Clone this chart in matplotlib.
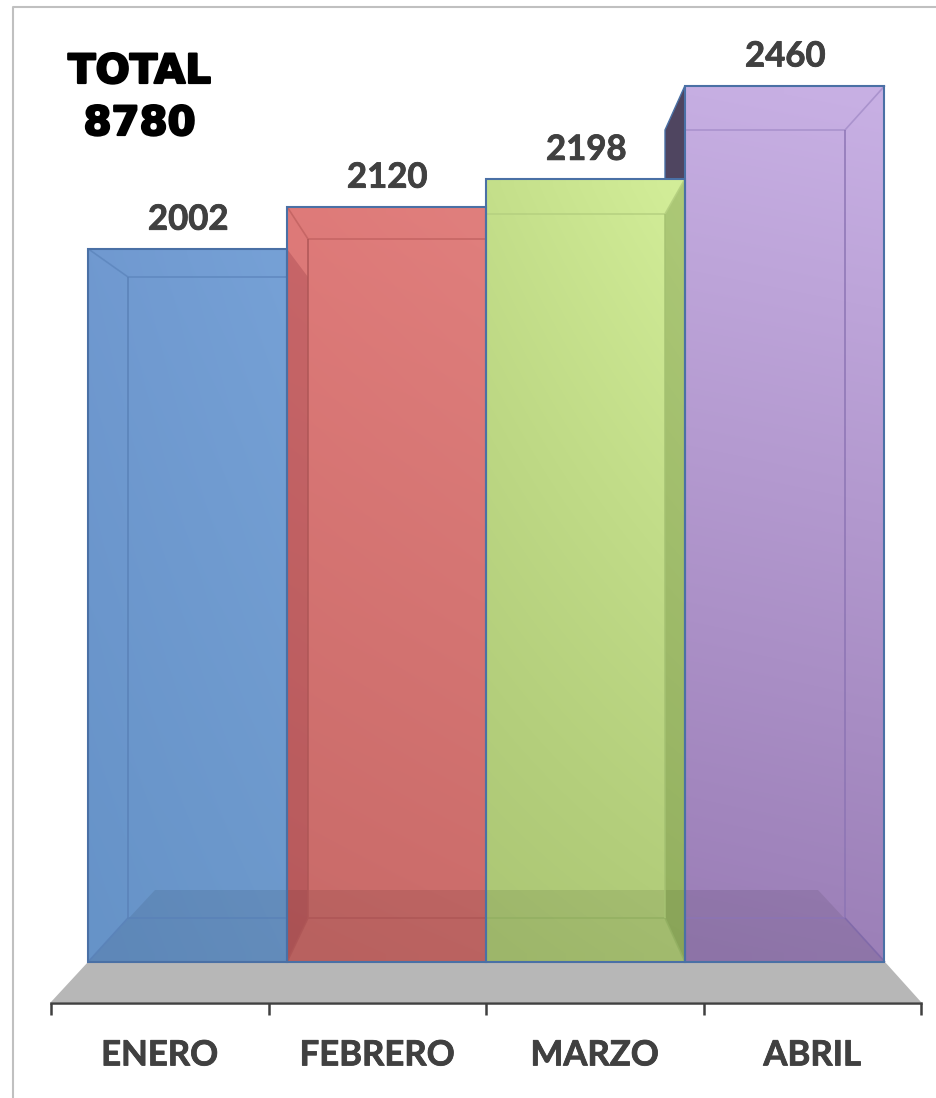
import numpy as np
import matplotlib
matplotlib.use("Agg")
import matplotlib.pyplot as plt
from matplotlib.patches import Polygon, Rectangle
from matplotlib.colors import to_rgb
import matplotlib.patheffects as pe

months = ["ENERO", "FEBRERO", "MARZO", "ABRIL"]
values = [2002, 2120, 2198, 2460]
total = 8780

# corner colours: top-left, top-right, bottom-left, bottom-right
bar_corners = [
    ["#7099d0", "#76a1d6", "#6693c8", "#6c98cb"],
    ["#de7a79", "#e07f7d", "#c86a68", "#cb6c6a"],
    ["#c4df8a", "#d3ee99", "#abc674", "#b0cb78"],
    ["#c6aee2", "#c8b0e4", "#9a7db6", "#9c80b8"],
]
edge = "#4a70a5"
text_col = "#404040"

W, H = 936, 1098
PX_X, PX_Y = 199.0, 0.3563   # pixels per bar step, pixels per unit value
X0, Y0 = 187.5, 962.0        # pixel of bar 0 centre, pixel of the zero line

fig = plt.figure(figsize=(W / 100, H / 100), dpi=100, facecolor="white")
ax = fig.add_axes([0, 0, 1, 1])
xlim = (-X0 / PX_X, (W - X0) / PX_X)
ylim = ((Y0 - H) / PX_Y, Y0 / PX_Y)
ax.patch.set_alpha(0)

def dx(px):
    return (px - X0) / PX_X
def dy(py):
    return (Y0 - py) / PX_Y
def P(pts):
    return [(dx(a), dy(b)) for a, b in pts]

def poly(pts, **kw):
    kw.setdefault("linewidth", 0)
    p = Polygon(P(pts), closed=True, **kw)
    ax.add_patch(p)
    return p

def line(pts, color, lw=1.2, alpha=1.0, z=6):
    xy = np.array(P(pts))
    ax.plot(xy[:, 0], xy[:, 1], color=color, lw=lw, alpha=alpha, zorder=z, solid_capstyle="butt")

def face(corners, n=48):
    tl, tr, bl, br = [np.array(to_rgb(c)) for c in corners]
    u = np.linspace(0, 1, n)[None, :, None]
    v = np.linspace(0, 1, n)[:, None, None]
    return (1 - v) * ((1 - u) * tl + u * tr) + v * ((1 - u) * bl + u * br)

# outer picture frame
line([(13, 1098), (13, 7), (936, 7)], "#c0c0c0", lw=1.5, z=0)

# grey platform
poly([(88, 962), (885, 962), (921, 1002), (51, 1002)], facecolor="#b7b7b7", zorder=1)

# back-left dark slab of the last bar
back_top = [277, 239, 214, 130]
top_px = [Y0 - v * PX_Y for v in values]
poly([(665, back_top[3]), (685, top_px[3]), (685, top_px[2]), (665, top_px[2])],
     facecolor="#4f4560", edgecolor=edge, linewidth=1.0, zorder=1.5)

# the bars with a gradient face
centers = np.arange(len(values))
bars = ax.bar(centers, values, width=1.0, facecolor="none", edgecolor=edge, linewidth=1.5, zorder=7)
for i, rect in enumerate(bars):
    im = ax.imshow(face(bar_corners[i]),
                   extent=(rect.get_x(), rect.get_x() + rect.get_width(), 0, rect.get_height()),
                   aspect="auto", interpolation="bilinear", zorder=2, origin="upper")
    clip = Rectangle((rect.get_x(), 0), rect.get_width(), rect.get_height(), transform=ax.transData)
    im.set_clip_path(clip)

# floor shade across all bars
poly([(88, 962), (155, 890), (818, 890), (885, 962)], facecolor="black", alpha=0.08, zorder=3)

# side walls
poly([(287, 249), (308, 277), (308, 918), (287, 962)], facecolor="#7a2030", alpha=0.22, zorder=3)
poly([(665, 214), (685, 179), (685, 962), (665, 918)], facecolor="#4a6a20", alpha=0.28, zorder=3)

# inner box lines
w1 = dict(lw=1.2, alpha=0.9)
line([(88, top_px[0]), (128, 277), (287, 277)], "#5f88bf", **w1)
line([(128, 277), (128, 918), (287, 918)], "#5a82b8", **w1)
line([(88, 962), (128, 918)], "#5a82b8", **w1)
line([(287, top_px[1]), (308, 239), (486, 239)], "#c46463", **w1)
line([(308, 239), (308, 918), (486, 918)], "#ae5656", **w1)
line([(287, 962), (308, 918)], "#ae5656", **w1)
line([(486, 214), (665, 214), (685, top_px[2])], "#b5d080", **w1)
line([(486, 918), (665, 918), (685, 962)], "#93b062", **w1)
line([(665, 214), (665, 918)], "#a5c272", **w1)
line([(685, 130), (845, 130), (885, top_px[3])], "#a790cb", **w1)
line([(845, 130), (845, 918), (685, 918)], "#8c74b4", **w1)
line([(845, 918), (885, 962)], "#7e68a8", **w1)

soft = [pe.withStroke(linewidth=0.6, foreground=text_col)]

# value labels
for i, v in enumerate(values):
    ax.annotate(str(v), (centers[i], v), xytext=(0.6, 29 / 100 * 72), textcoords="offset points",
                ha="center", va="center", fontsize=25, fontweight="bold",
                family="Lato", color=text_col, zorder=8, path_effects=soft)

# total box
for t, py in zip(["TOTAL", str(total)], [72, 124]):
    ax.text(dx(139.5), dy(py), t, ha="center", va="center", fontsize=29, fontweight="bold",
            family="DejaVu Sans", color="black", zorder=8,
            path_effects=[pe.withStroke(linewidth=1.6, foreground="black")])

# category axis
for s in ["top", "left", "right"]:
    ax.spines[s].set_visible(False)
ax.spines["bottom"].set_position(("data", dy(1003)))
ax.spines["bottom"].set_bounds(dx(51), dx(921))
ax.spines["bottom"].set_color(text_col)
ax.spines["bottom"].set_linewidth(1.8)
major = [dx(51 + 217.5 * k) for k in range(5)]
minor = [dx(51 + 217.5 * (k + 0.5)) for k in range(4)]
ax.set_xticks(major)
ax.set_xticklabels([])
ax.set_xticks(minor, minor=True)
ax.set_xticklabels(months, minor=True, fontsize=25, fontweight="bold", family="Lato", color=text_col,
                   path_effects=soft)
ax.tick_params(axis="x", which="major", direction="out", length=8.6, width=1.8, color=text_col)
ax.tick_params(axis="x", which="minor", length=0, pad=26.2)
ax.set_yticks([])
ax.set_xlim(xlim)
ax.set_ylim(ylim)

fig.savefig("out.png", dpi=100, facecolor="white")
